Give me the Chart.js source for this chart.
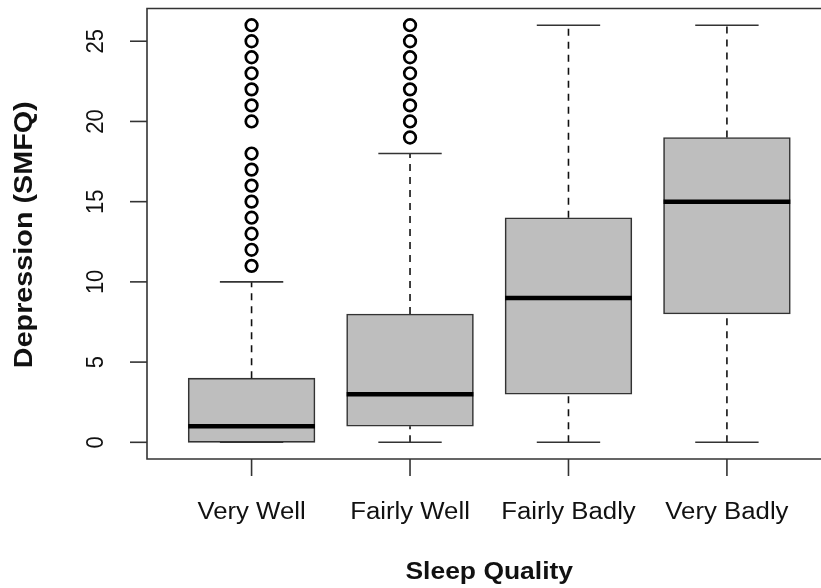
<!DOCTYPE html>
<html>
<head>
<meta charset="utf-8">
<script src="https://cdn.jsdelivr.net/npm/chart.js@4/dist/chart.umd.min.js"></script>
<style>
  html, body { margin: 0; padding: 0; background: #ffffff; overflow: hidden; }
  #wrap { position: relative; width: 840px; height: 588px; }
</style>
</head>
<body>
<div id="wrap"><canvas id="c" width="840" height="588"></canvas></div>
<script>
// ---- data ----
const categories   = ['Very Well', 'Fairly Well', 'Fairly Badly', 'Very Badly'];
const whiskerLow   = [0, 0, 0, 0];
const q1           = [0, 1, 3, 8];
const median       = [1, 3, 9, 15];
const q3           = [4, 8, 14, 19];
const whiskerHigh  = [10, 18, 26, 26];
const outliers     = [
  [11, 12, 13, 14, 15, 16, 17, 18, 20, 21, 22, 23, 24, 25, 26],
  [19, 20, 21, 22, 23, 24, 25, 26],
  [],
  []
];
const yTicks = [0, 5, 10, 15, 20, 25];
const xTitle = 'Sleep Quality';
const yTitle = 'Depression (SMFQ)';

// ---- derived datasets ----
const pos = categories.map((_, i) => i + 1);
function segs(list) {
  const out = [];
  list.forEach(s => { out.push(s[0], s[1], { x: s[1].x, y: null }); });
  return out;
}
const boxData = pos.map((x, i) => ({ x: x, y: [q1[i], q3[i]] }));
const whiskerData = segs(pos.flatMap((x, i) => [
  [{ x: x, y: q3[i] }, { x: x, y: whiskerHigh[i] }],
  [{ x: x, y: whiskerLow[i] }, { x: x, y: q1[i] }]
]));
const capData = segs(pos.flatMap((x, i) => [
  [{ x: x - 0.2, y: whiskerHigh[i] }, { x: x + 0.2, y: whiskerHigh[i] }],
  [{ x: x - 0.2, y: whiskerLow[i] }, { x: x + 0.2, y: whiskerLow[i] }]
]));
const medianData = segs(pos.map((x, i) =>
  [{ x: x - 0.4, y: median[i] }, { x: x + 0.4, y: median[i] }]));
const outlierData = pos.flatMap((x, i) => outliers[i].map(v => ({ x: x, y: v })));

const FONT = '"Liberation Sans", Arial, Helvetica, sans-serif';

function drawText(ctx, s, x, y, font, rot, sAlong, sPerp) {
  ctx.save();
  ctx.translate(x, y);
  ctx.rotate(rot);
  ctx.scale(sAlong, sPerp);
  ctx.font = font;
  ctx.fillStyle = '#111111';
  ctx.textAlign = 'center';
  ctx.textBaseline = 'middle';
  ctx.fillText(s, 0, 0);
  ctx.restore();
}

const rAxes = {
  id: 'rAxes',
  afterDraw(chart) {
    const ctx = chart.ctx, a = chart.chartArea;
    const xs = chart.scales.x, ys = chart.scales.y;
    ctx.save();
    ctx.strokeStyle = '#333333';
    ctx.lineWidth = 1.6;
    // frame (R box)
    ctx.beginPath();
    ctx.moveTo(a.right + 20, a.top);
    ctx.lineTo(a.left, a.top);
    ctx.lineTo(a.left, a.bottom);
    ctx.lineTo(a.right + 20, a.bottom);
    ctx.stroke();
    // y ticks
    yTicks.forEach(v => {
      const py = ys.getPixelForValue(v);
      ctx.beginPath();
      ctx.moveTo(a.left, py);
      ctx.lineTo(a.left - 17, py);
      ctx.stroke();
      drawText(ctx, String(v), a.left - 51, py, '22px ' + FONT, -Math.PI / 2, 1.0, 1.12);
    });
    // x ticks
    pos.forEach((x, i) => {
      const px = xs.getPixelForValue(x);
      ctx.beginPath();
      ctx.moveTo(px, a.bottom);
      ctx.lineTo(px, a.bottom + 17);
      ctx.stroke();
      drawText(ctx, categories[i], px, a.bottom + 54, '23px ' + FONT, 0, 1.12, 1.0);
    });
    // titles
    drawText(ctx, xTitle, (a.left + a.right) / 2, a.bottom + 114, 'bold 23px ' + FONT, 0, 1.15, 1.0);
    drawText(ctx, yTitle, a.left - 122, (a.top + a.bottom) / 2 + 1, 'bold 23px ' + FONT, -Math.PI / 2, 1.25, 1.12);
    ctx.restore();
  }
};

new Chart(document.getElementById('c'), {
  type: 'bar',
  data: {
    datasets: [
      {
        type: 'bar', label: 'box', data: boxData, order: 5,
        backgroundColor: '#bebebe', borderColor: '#333333', borderWidth: 1.6,
        borderSkipped: false, barThickness: 126.8
      },
      {
        type: 'line', label: 'whisker', data: whiskerData, order: 4,
        borderColor: '#111111', borderWidth: 1.6, borderDash: [7, 6],
        pointRadius: 0, spanGaps: false, fill: false, tension: 0
      },
      {
        type: 'line', label: 'cap', data: capData, order: 3,
        borderColor: '#333333', borderWidth: 1.6,
        pointRadius: 0, spanGaps: false, fill: false, tension: 0
      },
      {
        type: 'line', label: 'median', data: medianData, order: 1,
        borderColor: '#000000', borderWidth: 4.5, borderCapStyle: 'butt',
        pointRadius: 0, spanGaps: false, fill: false, tension: 0
      },
      {
        type: 'scatter', label: 'outliers', data: outlierData, order: 0,
        pointStyle: 'circle', pointRadius: 5.8, borderWidth: 2.7,
        borderColor: '#000000', backgroundColor: '#ffffff'
      }
    ]
  },
  options: {
    responsive: false,
    animation: false,
    layout: { padding: { left: 147, top: 8, right: 8.5, bottom: 129 } },
    plugins: { legend: { display: false }, tooltip: { enabled: false }, title: { display: false } },
    scales: {
      x: { type: 'linear', min: 0.34, max: 4.66, display: false, offset: false },
      y: { type: 'linear', min: -1.04, max: 27.04, display: false }
    }
  },
  plugins: [rAxes]
});
</script>
</body>
</html>
